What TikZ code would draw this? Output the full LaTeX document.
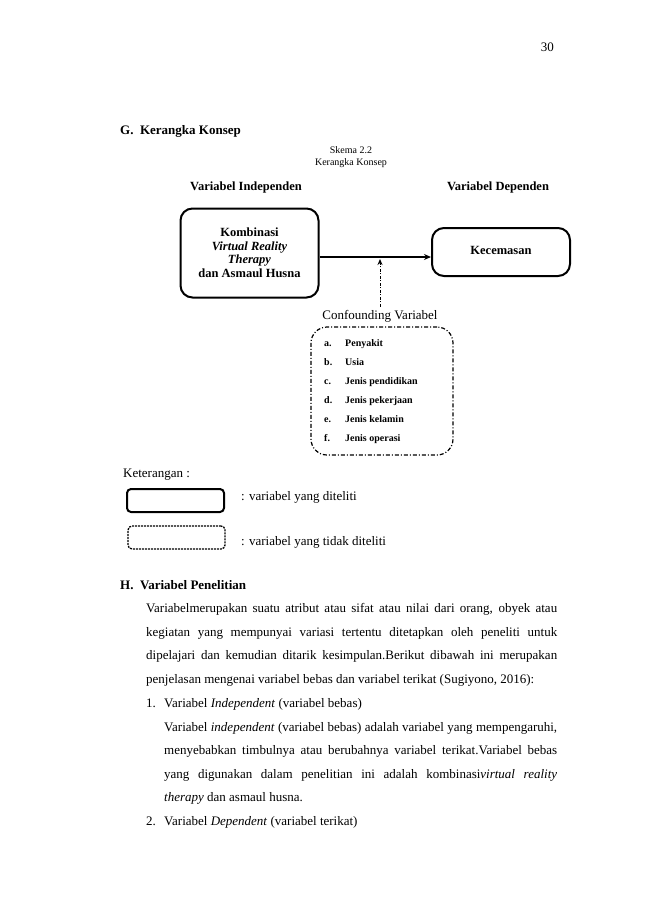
\documentclass[tikz,border=0pt]{standalone}
\usepackage{fontspec}
\setmainfont{Liberation Serif}
\usetikzlibrary{arrows.meta}
\begin{document}
\begin{tikzpicture}[x=1pt,y=-1pt,
  txt/.style={inner sep=0pt,anchor=base west,font=\fontsize{13}{15}\selectfont},
  hd/.style={inner sep=0pt,anchor=base west,font=\fontsize{13}{15}\selectfont\bfseries},
  dlab/.style={inner sep=0pt,anchor=base,font=\fontsize{12.5}{14}\selectfont\bfseries},
  item/.style={inner sep=0pt,anchor=base west,font=\fontsize{10}{11}\selectfont\bfseries},
  mainbox/.style={draw,line width=2pt,rounded corners=12pt,align=center,inner sep=0pt,font=\fontsize{12.5}{14}\selectfont\bfseries},
  confbox/.style={draw,line width=1.2pt,rounded corners=16pt,dash pattern=on 4pt off 2pt on 1pt off 2pt,inner sep=0pt},
  arr/.style={line width=1.4pt,-{Stealth[length=7pt,width=6pt]}}
]
\useasboundingbox[fill=white] (0,0) rectangle (650,919);
% page number
\node[inner sep=0pt,anchor=base east,font=\fontsize{13}{15}\selectfont] (pg) at (554,51) {30};
% heading G
\node[hd] (hG) at (120,134) {G.\ \ Kerangka Konsep};
\node[inner sep=0pt,align=center,font=\fontsize{10}{12}\selectfont] (sk) at (351,157) {Skema 2.2\\Kerangka Konsep};
\node[dlab] (vi) at (246,190) {Variabel Independen};
\node[dlab] (vd) at (498,190) {Variabel Dependen};
% boxes
\node[mainbox,minimum width=138pt,minimum height=89pt] (lb) at (249.5,253)
  {Kombinasi\\[0pt]\textit{Virtual Reality}\\[-1pt]\textit{Therapy}\\[0pt]dan Asmaul Husna};
\node[mainbox,minimum width=138pt,minimum height=48pt] (rb) at (501,252) {};
\node[dlab] (kec) at (rb.center) [yshift=-2.5pt] {Kecemasan};
\draw[arr] ([yshift=-4pt]lb.east) -- ([yshift=-5pt]rb.west);
\coordinate (m) at (380,259);
% confounding
\node[inner sep=0pt,anchor=base,font=\fontsize{13}{14}\selectfont] (conf) at (380,319) {Confounding Variabel};
\draw[line width=1pt,dash pattern=on 3pt off 1.5pt on 1pt off 1.5pt,-{Stealth[length=6pt,width=5pt]}] ([yshift=3pt]conf.north) -- (m);
\node[confbox,minimum width=142pt,minimum height=128pt] (cb) at (382,391) {};
\node[item] (ia) at (324,346.5) {a.};  \node[item] (la) at (345,346.5) {Penyakit};
\node[item] (ib) at (324,365.5) {b.};  \node[item] (lb2) at (345,365.5) {Usia};
\node[item] (ic) at (324,384.5) {c.};  \node[item] (lc) at (345,384.5) {Jenis pendidikan};
\node[item] (id) at (324,403.5) {d.};  \node[item] (ld) at (345,403.5) {Jenis pekerjaan};
\node[item] (ie) at (324,422.5) {e.};  \node[item] (le) at (345,422.5) {Jenis kelamin};
\node[item] (if) at (324,441.5) {f.};  \node[item] (lf) at (345,441.5) {Jenis operasi};
% legend
\node[txt] (ket) at (123,477) {Keterangan :};
\node[draw,line width=2pt,rounded corners=4pt,minimum width=97pt,minimum height=23pt,inner sep=0pt] (lg1) at (175.5,500.5) {};
\node[draw,line width=1.3pt,rounded corners=4pt,dash pattern=on 2pt off 1pt,minimum width=97pt,minimum height=23pt,inner sep=0pt] (lg2) at (176.5,537.5) {};
\node[txt] (t1) at (241,500) {: variabel yang diteliti};
\node[txt] (t2) at (241,545) {: variabel yang tidak diteliti};
% section H
\node[hd] (hH) at (120,589) {H.\ \ Variabel Penelitian};
\node[txt] (p1) at (146,612) {\makebox[411pt][s]{Variabelmerupakan suatu atribut atau sifat atau nilai dari orang, obyek atau}};
\node[txt] (p2) at (146,636) {\makebox[411pt][s]{kegiatan yang mempunyai variasi tertentu ditetapkan oleh peneliti untuk}};
\node[txt] (p3) at (146,659) {\makebox[411pt][s]{dipelajari dan kemudian ditarik kesimpulan.Berikut dibawah ini merupakan}};
\node[txt] (p4) at (146,683) {penjelasan mengenai variabel bebas dan variabel terikat (Sugiyono, 2016):};
\node[txt] (n1) at (146,707) {1.};
\node[txt] (l1) at (164,707) {Variabel \textit{Independent} (variabel bebas)};
\node[txt] (q1) at (164,731) {\makebox[393pt][s]{Variabel \textit{independent} (variabel bebas) adalah variabel yang mempengaruhi,}};
\node[txt] (q2) at (164,754) {\makebox[393pt][s]{menyebabkan timbulnya atau berubahnya variabel terikat.Variabel bebas}};
\node[txt] (q3) at (164,778) {\makebox[393pt][s]{yang digunakan dalam penelitian ini adalah kombinasi\textit{virtual reality}}};
\node[txt] (q4) at (164,801) {\textit{therapy} dan asmaul husna.};
\node[txt] (n2) at (146,825) {2.};
\node[txt] (l2) at (164,825) {Variabel \textit{Dependent} (variabel terikat)};
\end{tikzpicture}
\end{document}
